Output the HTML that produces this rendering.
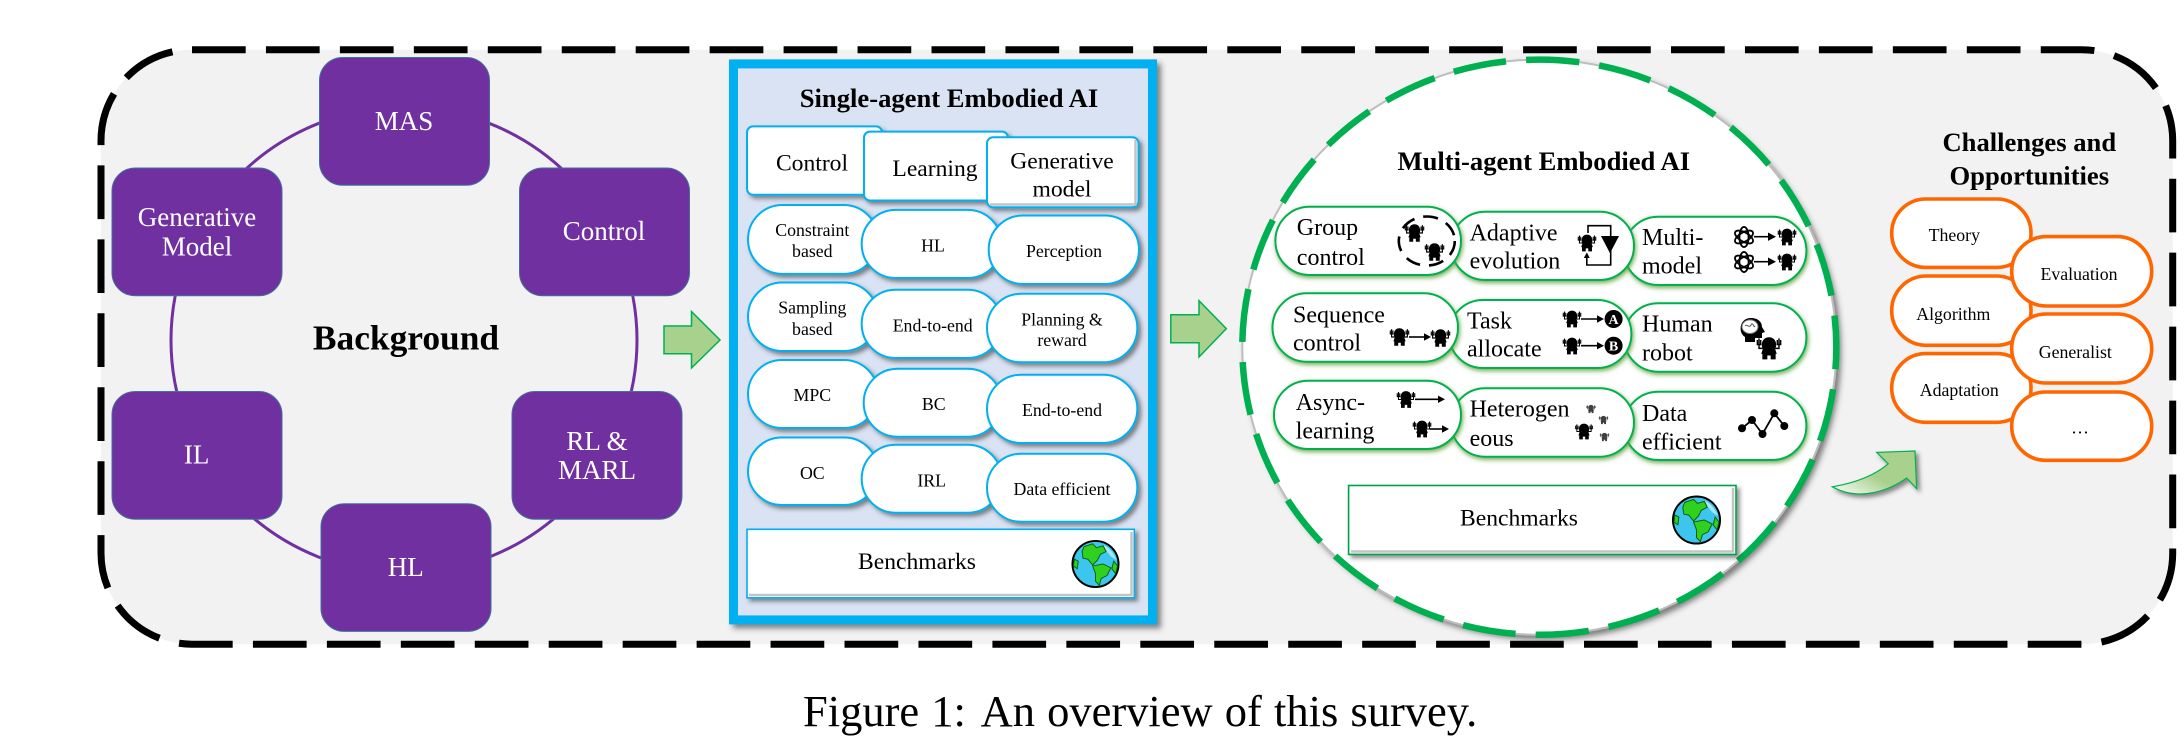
<!DOCTYPE html>
<html><head><meta charset="utf-8"><title>Overview</title>
<style>
html,body{margin:0;padding:0;background:#fff}
svg{display:block}
text{font-family:"Liberation Serif",serif;fill:#000}
.p{font-size:27px;fill:#fff;text-anchor:middle}
.t{font-size:26.6px;font-weight:bold;text-anchor:middle}
.h{font-size:23.6px;text-anchor:middle}
.s{font-size:17.8px;text-anchor:middle}
.g{font-size:24px}
.box{fill:#7030a0;stroke:#41719c;stroke-width:1}
.blue{fill:#fff;stroke:#00b0f0;stroke-width:2}
.grn{fill:#fff;stroke:#00b050;stroke-width:2}
.org{fill:#fff;stroke:#ff6600;stroke-width:3.6}
.bev{fill:none;stroke:#c4c4c4;stroke-width:2.5}
.ar{stroke:#000;stroke-width:1.6;fill:none}
</style></head><body>
<svg width="2184" height="752" viewBox="0 0 2184 752" xmlns="http://www.w3.org/2000/svg">
<defs>
<filter id="sd" x="-10%" y="-10%" width="125%" height="130%"><feDropShadow dx="3" dy="3" stdDeviation="2" flood-color="#333" flood-opacity=".55"/></filter>
<filter id="sb" x="-5%" y="-5%" width="112%" height="112%"><feDropShadow dx="4" dy="4" stdDeviation="3" flood-color="#333" flood-opacity=".6"/></filter>
<filter id="gl" x="-10%" y="-15%" width="120%" height="135%"><feDropShadow dx="1" dy="2" stdDeviation="2.5" flood-color="#5a9e35" flood-opacity=".85"/></filter>
<linearGradient id="ag" x1="0" y1="1" x2="1" y2="0"><stop offset="0" stop-color="#ffffff"/><stop offset=".45" stop-color="#a9d18e"/><stop offset="1" stop-color="#a9d18e"/></linearGradient>
<symbol id="r" viewBox="0 0 24 20" overflow="visible">
<path d="M5.500 7C5.500 2.500 8.500 0 12 0S18.500 2.500 18.500 7C18.500 8.500 18 9.500 17.500 10.500L19 15H18V20H13.500V16.500H10.500V20H6V15H5L6.500 10.500C6 9.500 5.500 8.500 5.500 7Z" fill="#000"/>
<path d="M6.500 10H3V6.500M17.500 10H21V6.500M1.500 2.500V6.500H4.500V2.500M3 1V6.500M19.500 2.500V6.500H22.500V2.500M21 1V6.500" fill="none" stroke="#000" stroke-width="1.300"/>
</symbol>
<symbol id="ai" viewBox="0 0 24 24" overflow="visible">
<g fill="none" stroke="#000" stroke-width="2"><ellipse cx="12" cy="12" rx="5" ry="11"/><ellipse cx="12" cy="12" rx="5" ry="11" transform="rotate(60 12 12)"/><ellipse cx="12" cy="12" rx="5" ry="11" transform="rotate(120 12 12)"/></g>
</symbol>
<symbol id="globe" viewBox="0 0 50 50" overflow="visible">
<circle cx="25" cy="25" r="24" fill="#3cc6ee" stroke="#000" stroke-width="2"/>
<path d="M33 5C38 7 44 13 47 21L41 17 36 11Z" fill="#a5e8f7"/>
<path d="M13 7L22 4 26 8 33 6 36 12 30 15 27 21 22 26 17 20 12 19 11 12Z" fill="#2fd01e" stroke="#0b5c0b" stroke-width="1"/>
<path d="M22 27L33 25 41 29 37 37 31 40 29 47 25 43 25 35Z" fill="#2fd01e" stroke="#0b5c0b" stroke-width="1"/>
<path d="M44 22L48 27 46 35 42 30Z" fill="#2fd01e" stroke="#0b5c0b" stroke-width="1"/>
<path d="M3 20L7 22 6 30 2 27Z" fill="#2fd01e" stroke="#0b5c0b" stroke-width="1"/>
</symbol>
</defs>

<!-- background panel -->
<rect x="101" y="49.7" width="2071.700" height="594.500" rx="91" ry="91" fill="#f2f2f2"/>
<path d="M192 49.700H2081.700A91 91 0 0 1 2172.700 140.700V553.200A91 91 0 0 1 2081.700 644.200H192A91 91 0 0 1 101 553.200V140.700A91 91 0 0 1 192 49.700Z" fill="none" stroke="#000" stroke-width="7" stroke-dasharray="53.700 20.250"/>

<!-- background ring -->
<circle cx="404" cy="340.200" r="233" fill="none" stroke="#7030a0" stroke-width="3"/>
<rect class="box" x="319.500" y="57.500" width="170" height="127.700" rx="23"/>
<rect class="box" x="112" y="168" width="170" height="127.700" rx="23"/>
<rect class="box" x="519.500" y="168" width="170" height="127.700" rx="23"/>
<rect class="box" x="112" y="391.500" width="170" height="127.700" rx="23"/>
<rect class="box" x="512" y="391.500" width="170" height="127.700" rx="23"/>
<rect class="box" x="321" y="503.700" width="170" height="127.700" rx="23"/>
<text class="p" x="404" y="130">MAS</text>
<text class="p" x="197" y="226">Generative</text>
<text class="p" x="197" y="255.300">Model</text>
<text class="p" x="604" y="240">Control</text>
<text class="p" x="196.600" y="463.500">IL</text>
<text class="p" x="597" y="450">RL &amp;</text>
<text class="p" x="597" y="479">MARL</text>
<text class="p" x="405.800" y="576">HL</text>
<text x="406" y="349.600" text-anchor="middle" font-size="35.400" font-weight="bold">Background</text>

<!-- arrow 1 -->
<path d="M664 326H691.500V311.600L720 340L691.500 368V353.700H664Z" fill="#a9d18e" stroke="#00b050" stroke-width="1.5"/>

<!-- single agent panel -->
<rect x="733.500" y="63.900" width="419" height="556" fill="#dae3f3" stroke="#00b0f0" stroke-width="9" filter="url(#sb)"/>
<text class="t" x="949" y="107.200">Single-agent Embodied AI</text>

<g filter="url(#sd)"><rect class="blue" x="747" y="126.400" width="135" height="68.400" rx="6"/></g>
<g filter="url(#sd)"><rect class="blue" x="864" y="131.600" width="144" height="68.900" rx="6"/></g>
<g filter="url(#sd)"><rect class="blue" x="987" y="137.300" width="151.500" height="70" rx="6"/></g>
<path class="bev" d="M990 204.500H1135.500V140"/>
<text class="h" x="812" y="170.400">Control</text>
<text class="h" x="935" y="176">Learning</text>
<text class="h" x="1062" y="168.500">Generative</text>
<text class="h" x="1062" y="196.300">model</text>

<g class="blue" filter="url(#sd)">
<rect x="748" y="205" width="130" height="68.900" rx="34.400"/>
<rect x="748" y="282.500" width="130" height="68.500" rx="34.200"/>
<rect x="748" y="360" width="130" height="68" rx="34"/>
<rect x="748" y="437.500" width="130" height="67.500" rx="33.700"/>
</g>
<g class="blue" filter="url(#sd)">
<rect x="861.700" y="209.900" width="140" height="68.100" rx="34"/>
<rect x="861.700" y="289.700" width="140" height="68.300" rx="34"/>
<rect x="863.700" y="368.700" width="138" height="68.100" rx="34"/>
<rect x="861.700" y="444.700" width="140" height="68.100" rx="34"/>
</g>
<g class="blue" filter="url(#sd)">
<rect x="988.700" y="215.500" width="150.300" height="68.500" rx="34.200"/>
<rect x="987" y="293.800" width="150.300" height="68.500" rx="34.200"/>
<rect x="987" y="374.700" width="150.300" height="68.300" rx="34.100"/>
<rect x="987" y="453.700" width="150.300" height="68.100" rx="34"/>
</g>
<text class="s" x="812.300" y="236.200">Constraint</text>
<text class="s" x="812.300" y="257">based</text>
<text class="s" x="812.300" y="313.400">Sampling</text>
<text class="s" x="812.300" y="334.800">based</text>
<text class="s" x="812.300" y="401">MPC</text>
<text class="s" x="812.300" y="479">OC</text>
<text class="s" x="933" y="251.300">HL</text>
<text class="s" x="932.700" y="331.400">End-to-end</text>
<text class="s" x="933.700" y="410">BC</text>
<text class="s" x="931.700" y="486.400">IRL</text>
<text class="s" x="1064" y="257">Perception</text>
<text class="s" x="1062" y="325.400">Planning &amp;</text>
<text class="s" x="1062" y="346">reward</text>
<text class="s" x="1062" y="416">End-to-end</text>
<text class="s" x="1062" y="495">Data efficient</text>

<g filter="url(#sd)"><rect x="747" y="529.300" width="387.300" height="68.500" fill="#fff" stroke="#00b0f0" stroke-width="1.600"/></g>
<path class="bev" d="M749 595H1131.500V532"/>
<text class="h" x="917" y="569.200">Benchmarks</text>
<use href="#globe" x="1070.500" y="540" width="50" height="48"/>

<!-- arrow 2 -->
<path d="M1170.800 314.800H1199V300.700L1226.300 328.600L1199 357V342.800H1170.800Z" fill="#a9d18e" stroke="#00b050" stroke-width="1.500"/>

<!-- multi agent circle -->
<ellipse cx="1539.300" cy="347.200" rx="297" ry="287.600" fill="#fff" stroke="#bdbdbd" stroke-width="2" filter="url(#sb)"/>
<ellipse cx="1539.300" cy="347.200" rx="297" ry="287.600" fill="none" stroke="#00b050" stroke-width="6.500" pathLength="1825" stroke-dasharray="53 20" stroke-dashoffset="31"/>
<text class="t" x="1543.800" y="169.800">Multi-agent Embodied AI</text>

<g class="grn" filter="url(#gl)">
<rect x="1624" y="216.700" width="182.400" height="68.300" rx="34.100"/>
<rect x="1624" y="303.300" width="182.400" height="68.400" rx="34.200"/>
<rect x="1624" y="391.700" width="182.400" height="68.300" rx="34.100"/>
</g>
<g class="grn" filter="url(#gl)">
<rect x="1451" y="211.700" width="183" height="68.300" rx="34.100"/>
<rect x="1449" y="300" width="182.400" height="68" rx="34"/>
<rect x="1451" y="388.300" width="183" height="68.400" rx="34.200"/>
</g>
<g class="grn" filter="url(#gl)">
<rect x="1275.400" y="206.700" width="185.600" height="68.300" rx="34.100"/>
<rect x="1272.500" y="293.300" width="185.500" height="68.400" rx="34.200"/>
<rect x="1274" y="380.700" width="187" height="68.300" rx="34.100"/>
</g>
<text class="g" x="1296.800" y="235">Group</text>
<text class="g" x="1296.800" y="265">control</text>
<text class="g" x="1469.600" y="240.700">Adaptive</text>
<text class="g" x="1469.600" y="268.700">evolution</text>
<text class="g" x="1642" y="245">Multi-</text>
<text class="g" x="1642" y="273.300">model</text>
<text class="g" x="1293" y="322.700">Sequence</text>
<text class="g" x="1293" y="350.700">control</text>
<text class="g" x="1467" y="328.300">Task</text>
<text class="g" x="1467" y="356.700">allocate</text>
<text class="g" x="1642" y="331.700">Human</text>
<text class="g" x="1642" y="360.700">robot</text>
<text class="g" x="1295.700" y="410">Async-</text>
<text class="g" x="1295.700" y="438.300">learning</text>
<text class="g" x="1469.600" y="416.700">Heterogen</text>
<text class="g" x="1469.600" y="446">eous</text>
<text class="g" x="1642" y="421">Data</text>
<text class="g" x="1642" y="449.300">efficient</text>

<!-- icons -->
<ellipse cx="1426.800" cy="241" rx="28" ry="24.500" fill="none" stroke="#000" stroke-width="2.600" stroke-dasharray="15 9"/>
<use href="#r" x="1404" y="224" width="21" height="18"/>
<use href="#r" x="1424" y="243" width="21" height="18"/>

<use href="#r" x="1577" y="234" width="20" height="18"/>
<path d="M1601 236H1619L1610 253.300Z" fill="#000"/>
<path d="M1588 233V225.700H1610.700V265H1586.800V256" fill="none" stroke="#000" stroke-width="1.600"/>
<path d="M1583.800 258L1586.800 252.500L1589.800 258Z" fill="#000"/>

<use href="#ai" x="1733" y="226" width="22" height="22"/>
<path class="ar" d="M1754 236.700H1769"/><path d="M1768 232.500L1776 236.700L1768 240.900Z"/>
<use href="#r" x="1777" y="228" width="20" height="18"/>
<use href="#ai" x="1733" y="251" width="22" height="22"/>
<path class="ar" d="M1754 261.700H1769"/><path d="M1768 257.500L1776 261.700L1768 265.900Z"/>
<use href="#r" x="1777" y="253" width="20" height="18"/>

<use href="#r" x="1389" y="328" width="21" height="18"/>
<path class="ar" d="M1409 337H1425"/><path d="M1424 333.300L1431 337L1424 340.700Z"/>
<use href="#r" x="1430" y="329" width="21" height="18"/>

<use href="#r" x="1562" y="310" width="20" height="18"/>
<path class="ar" d="M1581 319H1598"/><path d="M1597 315.300L1604 319L1597 322.700Z"/>
<circle cx="1613.600" cy="319" r="9" fill="#000"/>
<text x="1613.600" y="324" text-anchor="middle" font-size="14" font-weight="bold" style="fill:#fff">A</text>
<use href="#r" x="1562" y="337" width="20" height="18"/>
<path class="ar" d="M1581 345.700H1598"/><path d="M1597 342L1604 345.700L1597 349.400Z"/>
<circle cx="1613.600" cy="345.700" r="9" fill="#000"/>
<text x="1613.600" y="350.700" text-anchor="middle" font-size="14" font-weight="bold" style="fill:#fff">B</text>

<path d="M1745 342V337C1738 333 1739 318 1751 318C1759 318 1762 323 1762 327L1765 332L1762 333V338H1755V342Z" fill="#000"/>
<ellipse cx="1750" cy="326.700" rx="8" ry="6.800" fill="#fff" stroke="#777" stroke-width="1"/>
<path d="M1745 326C1747 323 1749 329 1751 325S1754 329 1755 326" fill="none" stroke="#555" stroke-width="1"/>
<use href="#r" x="1755.700" y="335" width="26.600" height="26.700"/>

<use href="#r" x="1396" y="390.500" width="20" height="18"/>
<path class="ar" d="M1415 399.300H1439"/><path d="M1438 395.600L1445 399.300L1438 403Z"/>
<use href="#r" x="1412" y="420" width="20" height="18"/>
<path class="ar" d="M1430 429H1443"/><path d="M1442 425.300L1449 429L1442 432.700Z"/>

<use href="#r" x="1586" y="404" width="10" height="10" opacity=".75"/>
<use href="#r" x="1598.500" y="415" width="10" height="10" opacity=".75"/>
<use href="#r" x="1599.500" y="432" width="10" height="10" opacity=".75"/>
<use href="#r" x="1574.500" y="423" width="19" height="17"/>

<polyline points="1742,428.300 1752,420 1762.500,434 1774.300,413.300 1784.300,426" fill="none" stroke="#000" stroke-width="1.800"/>
<g fill="#000"><circle cx="1742" cy="428.300" r="4"/><circle cx="1752" cy="420" r="4"/><circle cx="1762.500" cy="434" r="4"/><circle cx="1774.300" cy="413.300" r="4"/><circle cx="1784.300" cy="426" r="4"/></g>

<g filter="url(#sd)"><rect x="1348.600" y="485.500" width="387.400" height="68.900" fill="#fff" stroke="#00a050" stroke-width="1.600"/></g>
<path class="bev" d="M1351 551.500H1733V488"/>
<text class="h" x="1519" y="525.300">Benchmarks</text>
<use href="#globe" x="1671" y="495.500" width="51" height="49"/>

<!-- curved arrow -->
<path d="M1832.300 486.800C1855 483 1875 475 1888.300 463.800L1876.700 452.400L1915 451L1916.700 488.700L1906.700 478C1890 490 1860 502 1832.300 486.800Z" fill="url(#ag)" stroke="#00b050" stroke-width="1.200" filter="url(#sd)"/>

<!-- challenges -->
<text class="t" x="2029.300" y="150.800">Challenges and</text>
<text class="t" x="2029.300" y="184.400">Opportunities</text>
<rect class="org" x="1891.700" y="199" width="139.300" height="68.400" rx="34.200"/>
<rect class="org" x="1891.700" y="276" width="139.300" height="69.300" rx="34.600"/>
<rect class="org" x="1891.700" y="353.600" width="139.300" height="68.700" rx="34.300"/>
<rect class="org" x="2011.700" y="236.600" width="140" height="69.400" rx="34.700"/>
<rect class="org" x="2011.700" y="314" width="140" height="69" rx="34.500"/>
<rect class="org" x="2011.700" y="392" width="140" height="68.300" rx="34.100"/>
<text class="s" x="1954.300" y="241">Theory</text>
<text class="s" x="1953.300" y="320">Algorithm</text>
<text class="s" x="1959.300" y="395.800">Adaptation</text>
<text class="s" x="2079" y="280">Evaluation</text>
<text class="s" x="2075.300" y="358">Generalist</text>
<text class="s" x="2080" y="433.400">…</text>

<!-- caption -->
<text x="803" y="726" font-size="44.500" word-spacing="1">Figure 1: <tspan dx="5">An</tspan> overview of this survey.</text>
</svg>
</body></html>
